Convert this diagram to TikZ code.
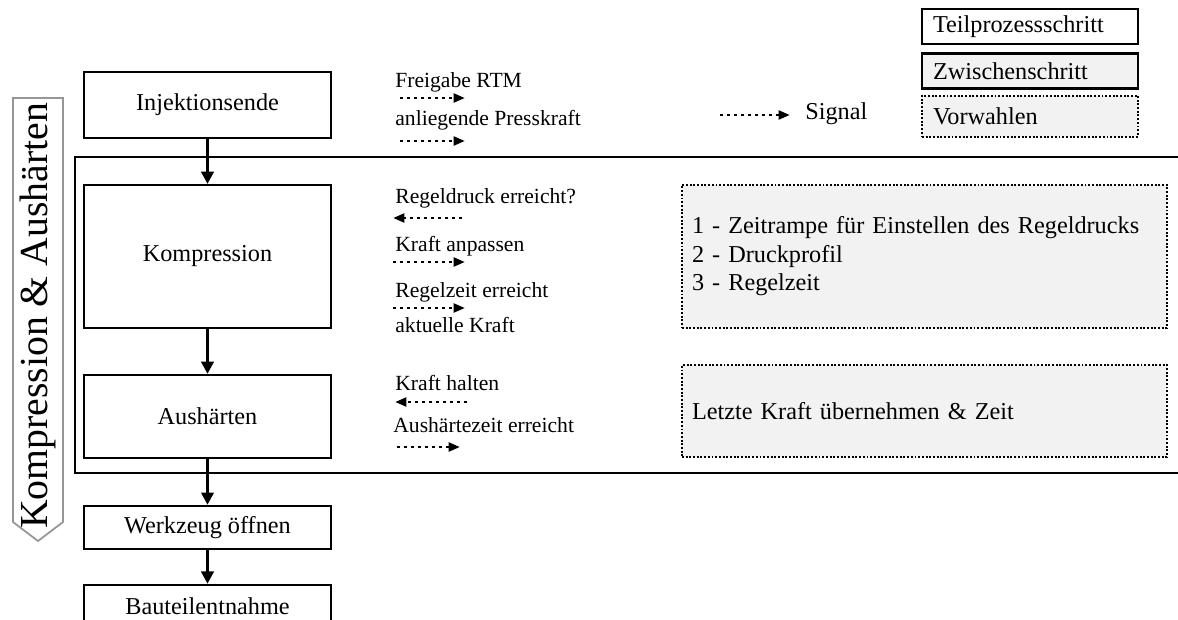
\documentclass[tikz,border=0pt]{standalone}
\usepackage{fontspec}
\setmainfont{Liberation Serif}
\usetikzlibrary{positioning, arrows.meta}

\definecolor{boxgray}{RGB}{242,242,242}
\definecolor{framegray}{RGB}{150,150,150}

\newcommand{\stepfont}{\fontsize{13.8}{16.2}\selectfont}
\newcommand{\signalfont}{\fontsize{12.3}{14}\selectfont}

\begin{document}
\begin{tikzpicture}[
    stepbox/.style={draw, line width=1.1pt, minimum width=4.94cm, inner sep=0pt, font=\stepfont},
    presetbox/.style={draw, densely dotted, line width=1.1pt, fill=boxgray, inner xsep=0.2cm, text width=9.3cm, align=left, font=\stepfont},
    legendbox/.style={draw, line width=1.1pt, inner xsep=0.22cm, inner ysep=0pt, text width=3.88cm, align=left, font=\stepfont},
    flow/.style={-{Triangle[length=7pt, width=7pt]}, line width=1.8pt},
    signal/.style={-{Triangle[length=6.5pt, width=5pt]}, line width=1.6pt, dash pattern=on 1.6pt off 2.4pt},
    sig/.style={anchor=west, inner sep=0pt, font=\signalfont},
]
    \useasboundingbox (0,0) rectangle (23.56,-12.38);

    % Phase label on the left
    \draw[framegray, line width=1pt] (0.26,-1.96) -- (1.26,-1.96) -- (1.26,-10.44)
      -- (0.76,-10.82) -- (0.26,-10.44) -- cycle;
    \node[rotate=90, inner sep=0pt, font=\fontsize{22.6}{26}\selectfont] (phase) at (0.76,-6.32)
      {Kompression \& Aushärten};

    % Frame around compression and curing
    \draw[line width=1.6pt] (1.5,-3.14) rectangle (23.9,-9.46);

    % Process steps
    \node[stepbox, minimum height=1.32cm] (inj) at (4.15,-2.10) {Injektionsende};
    \node[stepbox, minimum height=2.86cm, below=0.9cm of inj] (komp) {Kompression};
    \node[stepbox, minimum height=1.66cm, below=0.9cm of komp] (aush) {Aushärten};
    \node[stepbox, minimum height=0.86cm, below=0.92cm of aush] (werk) {Werkzeug öffnen};
    \node[stepbox, minimum height=0.86cm, below=0.68cm of werk] (baut) {Bauteilentnahme};

    \draw[flow] (inj) -- (komp);
    \draw[flow] (komp) -- (aush);
    \draw[flow] (aush) -- (werk);
    \draw[flow] (werk) -- (baut);

    % Signals between the steps
    \node[sig] (freigabe) at (7.9,-1.64) {Freigabe RTM};
    \draw[signal] (freigabe.west) ++(0.1,-0.32) -- ++(1.3,0);
    \node[sig] (presskraft) at (7.9,-2.40) {anliegende Presskraft};
    \draw[signal] (presskraft.west) ++(0.1,-0.42) -- ++(1.3,0);

    \node[sig] (regeldruck) at (7.9,-3.96) {Regeldruck erreicht?};
    \draw[signal] (regeldruck.west) ++(1.34,-0.40) -- ++(-1.38,0);
    \node[sig] (anpassen) at (7.9,-4.92) {Kraft anpassen};
    \draw[signal] (anpassen.west) ++(-0.04,-0.32) -- ++(1.44,0);
    \node[sig] (regelzeit) at (7.9,-5.84) {Regelzeit erreicht};
    \draw[signal] (regelzeit.west) ++(-0.04,-0.32) -- ++(1.44,0);
    \node[sig] (aktuell) at (7.9,-6.50) {aktuelle Kraft};

    \node[sig] (halten) at (7.9,-7.66) {Kraft halten};
    \draw[signal] (halten.west) ++(1.44,-0.38) -- ++(-1.44,0);
    \node[sig] (haertezeit) at (7.86,-8.50) {Aushärtezeit erreicht};
    \draw[signal] (haertezeit.west) ++(0.08,-0.44) -- ++(1.26,0);

    % Presets
    \node[presetbox, minimum height=2.86cm] (preset1) at (18.49,-5.13)
      {1 - Zeitrampe für Einstellen des Regeldrucks\\2 - Druckprofil\\3 - Regelzeit};
    \node[presetbox, minimum height=1.84cm] (preset2) at (18.49,-8.22)
      {Letzte Kraft übernehmen \& Zeit};

    % Legend
    \node[sig, font=\stepfont] (signal) at (16.1,-2.28) {Signal};
    \draw[signal] ([xshift=-1.7cm, yshift=-0.02cm]signal.west) -- ([xshift=-0.3cm, yshift=-0.02cm]signal.west);

    \node[legendbox, minimum height=0.70cm] (teil) at (20.6,-0.53) {Teilprozessschritt};
    \node[legendbox, fill=boxgray, line width=1.5pt, minimum height=0.70cm, below=0.14cm of teil] (zwischen) {Zwischenschritt};
    \node[legendbox, densely dotted, fill=boxgray, minimum height=0.82cm, below=0.1cm of zwischen] (vorwahl) {Vorwahlen};
\end{tikzpicture}
\end{document}
